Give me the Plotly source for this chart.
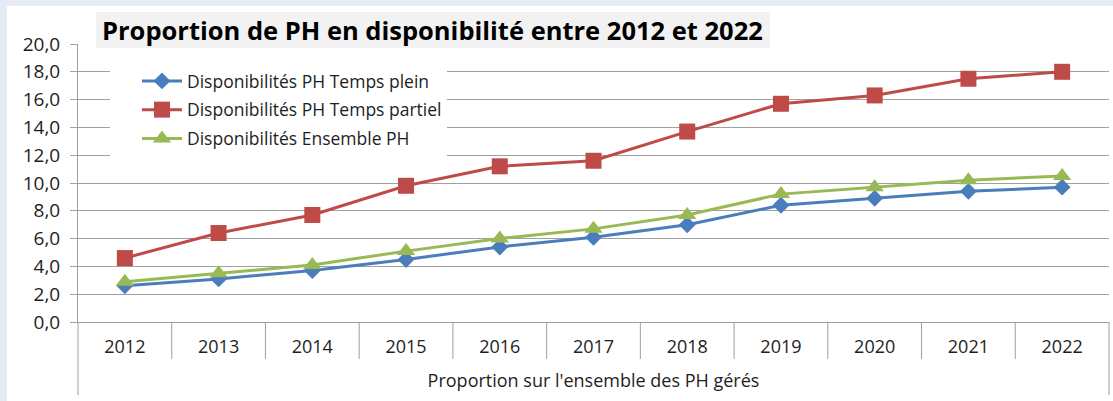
import plotly.graph_objects as go

years = ["2012", "2013", "2014", "2015", "2016", "2017", "2018", "2019", "2020", "2021", "2022"]
temps_plein = [2.6, 3.1, 3.7, 4.5, 5.4, 6.1, 7.0, 8.4, 8.9, 9.4, 9.7]
temps_partiel = [4.6, 6.4, 7.7, 9.8, 11.2, 11.6, 13.7, 15.7, 16.3, 17.5, 18.0]
ensemble = [2.9, 3.5, 4.1, 5.1, 6.0, 6.7, 7.7, 9.2, 9.7, 10.2, 10.5]

names = ["Disponibilités PH Temps plein", "Disponibilités PH Temps partiel", "Disponibilités Ensemble PH"]
colors = ["#4A7EBB", "#BE4B48", "#98B954"]
symbols = ["diamond", "square", "triangle-up"]
msizes = [13, 16, 16]
series = [temps_plein, temps_partiel, ensemble]

W, H = 1113, 401
L, R, T, B = 78, 4, 44, 79
pw, ph = W - L - R, H - T - B

def px2x(px):
    return (px - L) / pw

def px2y(py):
    return (H - B - py) / ph

FONT = "Open Sans"
TXT = "#1E1E1E"
fig = go.Figure()
x_idx = list(range(len(years)))
for i, (nm, vals) in enumerate(zip(names, series)):
    fig.add_trace(go.Scatter(
        x=x_idx, y=vals, name=nm, mode="lines+markers",
        line=dict(color=colors[i], width=3),
        marker=dict(symbol=symbols[i], size=msizes[i], color=colors[i]),
        legendgroup=f"g{i}",
    ))

shapes = []
shapes.append(dict(type="rect", xref="paper", yref="paper", layer="below",
                   x0=px2x(7), x1=px2x(W + 5), y0=px2y(H + 5), y1=px2y(6),
                   fillcolor="white", line=dict(width=0)))
shapes.append(dict(type="rect", xref="paper", yref="paper", layer="above",
                   x0=px2x(96), x1=px2x(770), y0=px2y(48), y1=px2y(12),
                   fillcolor="#F2F2F2", line=dict(width=0)))
axis_grey = "#A0A0A0"
n = len(years)
for k in range(1, n):
    shapes.append(dict(type="line", xref="paper", yref="paper",
                       x0=k / n, x1=k / n, y0=0, y1=px2y(359),
                       line=dict(color=axis_grey, width=1)))
for xx in (0, 1):
    shapes.append(dict(type="line", xref="paper", yref="paper",
                       x0=xx, x1=xx, y0=0, y1=px2y(395),
                       line=dict(color=axis_grey, width=1)))

fig.update_layout(
    width=W, height=H,
    margin=dict(l=L, r=R, t=T, b=B, autoexpand=False),
    paper_bgcolor="#E6ECF5",
    plot_bgcolor="white",
    separators=", ",
    font=dict(family=FONT, size=17, color=TXT),
    shapes=shapes,
    annotations=[dict(text="<b>Proportion de PH en disponibilité entre 2012 et 2022</b>",
                      xref="paper", yref="paper", x=px2x(432), y=px2y(30),
                      xanchor="center", yanchor="middle", showarrow=False,
                      font=dict(family=FONT, size=25.5, color="black"))],
    legend=dict(x=px2x(110), y=px2y(63), xanchor="left", yanchor="top",
                bgcolor="white", borderwidth=0, tracegroupgap=3,
                indentation=27,
                font=dict(family=FONT, size=17.5, color=TXT),
                itemwidth=40),
    showlegend=True,
)
fig.update_xaxes(
    range=[-0.5, n - 0.5], tickvals=x_idx, ticktext=years, automargin=False,
    showgrid=False, zeroline=False, showline=True, linecolor=axis_grey, linewidth=1,
    ticks="", ticklabelstandoff=8, tickfont=dict(size=18, color=TXT),
    title=dict(text="Proportion sur l'ensemble des PH gérés", standoff=17,
               font=dict(size=18, color=TXT)),
)
fig.update_yaxes(
    range=[0, 20], dtick=2, tickformat=".1f", automargin=False,
    showgrid=True, gridcolor=axis_grey, gridwidth=1, zeroline=False,
    showline=True, linecolor=axis_grey, linewidth=1,
    ticks="outside", ticklen=7, tickcolor=axis_grey,
    ticklabelstandoff=6,
    tickfont=dict(size=19, color=TXT),
)
fig.write_html("out.html", post_script="document.body.style.margin='0';",
               config={"displayModeBar": False})
